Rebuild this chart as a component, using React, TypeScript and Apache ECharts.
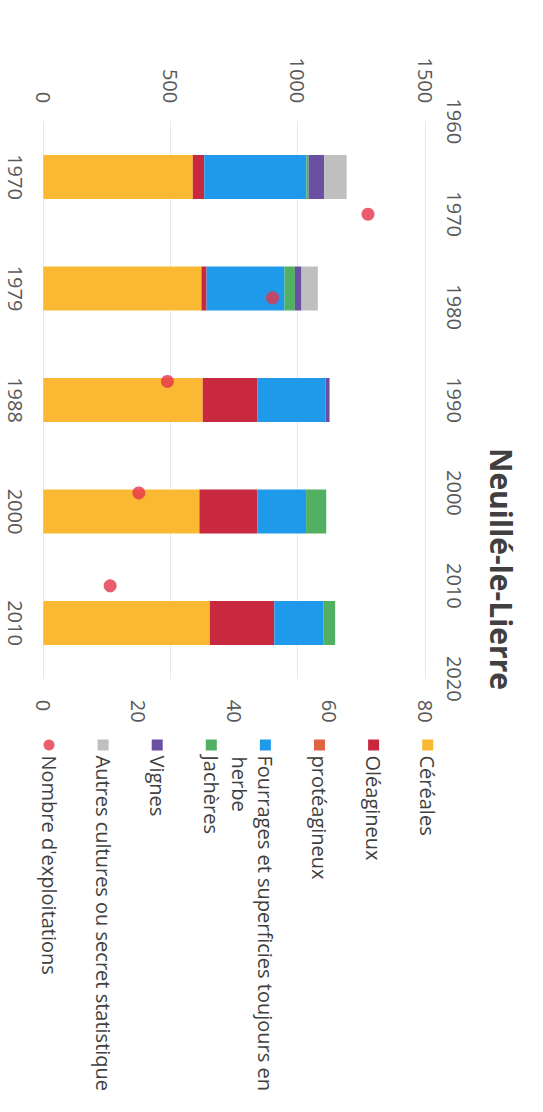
import React, { useEffect, useRef } from 'react';
import * as echarts from 'echarts';

// ---- Data (surfaces in ha) ----
const categories = ['1970', '1979', '1988', '2000', '2010'];
const cereales = [587, 621, 626, 613, 654];
const oleagineux = [45, 20, 214, 228, 253];
const proteagineux = [0, 0, 0, 0, 0];
const fourrages = [401, 306, 269, 191, 194];
const jacheres = [9, 41, 0, 79, 45];
const vignes = [61, 26, 15, 0, 0];
const autres = [88, 64, 0, 0, 0];

// Number of farms, plotted against a year axis
const exploitationYears = [1970, 1979, 1988, 2000, 2010];
const exploitations = [68, 48, 26, 20, 14];

// Tick labels
const surfaceTicks = [0, 500, 1000, 1500];
const farmTicks = [0, 20, 40, 60, 80];
const yearTicks = [1960, 1970, 1980, 1990, 2000, 2010, 2020];

const TITLE = 'Neuillé-le-Lierre';
const FOURRAGES = 'Fourrages et superficies toujours en herbe';
const barSeries = [
  { name: 'Céréales', data: cereales, color: '#FBB933' },
  { name: 'Oléagineux', data: oleagineux, color: '#C9293F' },
  { name: 'protéagineux', data: proteagineux, color: '#DF6344' },
  { name: FOURRAGES, data: fourrages, color: '#1F9AEB' },
  { name: 'Jachères', data: jacheres, color: '#52B062' },
  { name: 'Vignes', data: vignes, color: '#6A4FA3' },
  { name: 'Autres cultures ou secret statistique', data: autres, color: '#BFBFBF' },
];
const FARMS = "Nombre d'exploitations";
const farmColor = '#E5344B';

const FONT = '"Open Sans", "Noto Sans", sans-serif';
const AXIS_COLOR = '#595959';
const TEXT_COLOR = '#404040';

const step = (t: number[]) => t[1] - t[0];

export default function App() {
  const ref = useRef<HTMLDivElement>(null);

  useEffect(() => {
    if (!ref.current) return;
    const chart = echarts.init(ref.current, null, { renderer: 'svg' });
    const plainLabel = (v: number) => String(v);

    const option: any = {
      animation: false,
      backgroundColor: '#ffffff',
      title: {
        text: TITLE,
        left: 448,
        top: 27,
        padding: 0,
        textStyle: { fontSize: 30, fontWeight: 'bold', color: TEXT_COLOR, fontFamily: FONT },
      },
      legend: {
        orient: 'vertical',
        left: 739.5,
        top: 101.8,
        padding: 0,
        itemGap: 27.1,
        itemWidth: 11,
        itemHeight: 11,
        textStyle: { fontSize: 20, lineHeight: 27, color: TEXT_COLOR, fontFamily: FONT },
        formatter: (name: string) => (name === FOURRAGES ? 'Fourrages et superficies toujours en' : name),
        data: [
          ...barSeries.map((s) => ({ name: s.name, icon: 'rect' })),
          { name: FARMS, icon: 'circle' },
        ],
      },
      graphic: [
        {
          type: 'text',
          x: 756.5,
          y: 304,
          silent: true,
          style: {
            text: 'herbe',
            fontSize: 20,
            fontFamily: FONT,
            fill: TEXT_COLOR,
            align: 'left',
            verticalAlign: 'middle',
          },
        },
      ],
      grid: {
        left: 121.25,
        right: 433.25,
        top: 117.7,
        bottom: 43.3,
        containLabel: false,
        outerBoundsMode: 'none',
      },
      xAxis: [
        {
          type: 'category',
          data: categories,
          position: 'bottom',
          axisLine: { show: false },
          axisTick: { show: false },
          axisLabel: { color: AXIS_COLOR, fontSize: 20, fontFamily: FONT, margin: 18 },
        },
        {
          type: 'value',
          position: 'top',
          min: yearTicks[0],
          max: yearTicks[yearTicks.length - 1],
          interval: step(yearTicks),
          axisLine: { show: false },
          axisTick: { show: false },
          splitLine: { show: false },
          axisLabel: { color: AXIS_COLOR, fontSize: 20, fontFamily: FONT, margin: 19, formatter: plainLabel },
        },
      ],
      yAxis: [
        {
          type: 'value',
          position: 'left',
          min: surfaceTicks[0],
          max: surfaceTicks[surfaceTicks.length - 1],
          interval: step(surfaceTicks),
          axisLine: { show: false },
          axisTick: { show: false },
          splitLine: { show: true, lineStyle: { color: '#E9E9E9', width: 1 } },
          axisLabel: { color: AXIS_COLOR, fontSize: 20, fontFamily: FONT, margin: 18, formatter: plainLabel },
        },
        {
          type: 'value',
          position: 'right',
          min: farmTicks[0],
          max: farmTicks[farmTicks.length - 1],
          interval: step(farmTicks),
          axisLine: { show: false },
          axisTick: { show: false },
          splitLine: { show: false },
          axisLabel: { color: AXIS_COLOR, fontSize: 20, fontFamily: FONT, margin: 21, formatter: plainLabel },
        },
      ],
      series: [
        ...barSeries.map((s) => ({
          name: s.name,
          type: 'bar',
          stack: 'surface',
          xAxisIndex: 0,
          yAxisIndex: 0,
          barWidth: 44,
          data: s.data,
          itemStyle: { color: s.color },
        })),
        {
          name: FARMS,
          type: 'scatter',
          xAxisIndex: 1,
          yAxisIndex: 1,
          symbol: 'circle',
          symbolSize: 13,
          itemStyle: { color: farmColor },
          data: exploitationYears.map((y, i) => [y, exploitations[i]]),
          z: 5,
        },
      ],
    };

    chart.setOption(option);
    return () => chart.dispose();
  }, []);

  return (
    <div
      style={{
        position: 'fixed',
        left: 0,
        top: 0,
        width: 543,
        height: 1112,
        overflow: 'hidden',
        background: '#ffffff',
      }}
    >
      <div
        ref={ref}
        style={{
          position: 'absolute',
          left: 0,
          top: 0,
          width: 1112,
          height: 543,
          transformOrigin: '0 0',
          transform: 'translateX(543px) rotate(90deg)',
        }}
      />
    </div>
  );
}
